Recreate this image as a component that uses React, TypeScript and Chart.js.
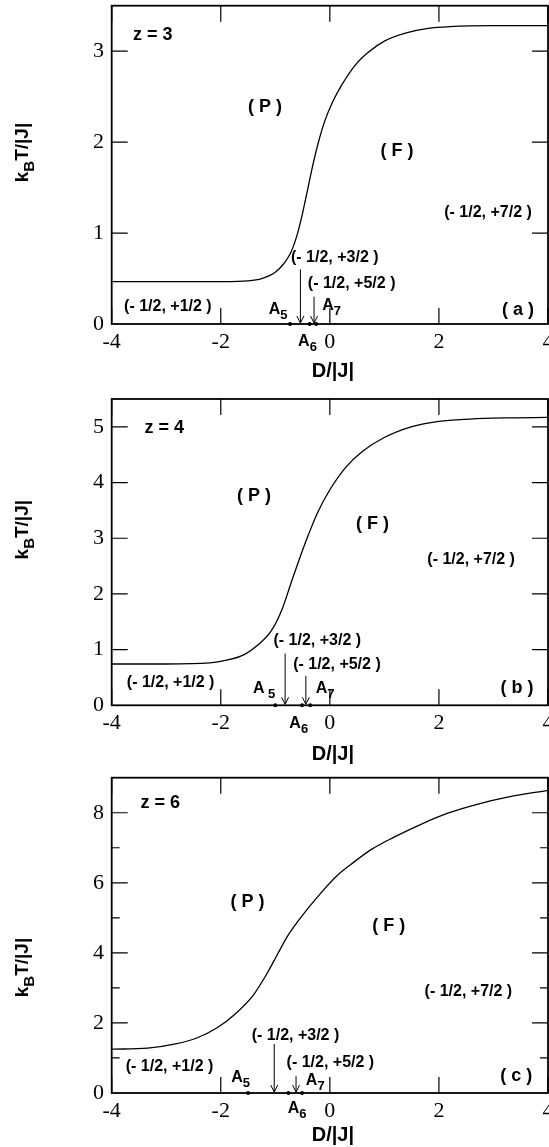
import React, { useEffect, useRef } from "react";
import { Chart, registerables } from "chart.js";
Chart.register(...registerables);

// ---------- data ----------
const xTickValues = [-4, -2, 0, 2, 4];

// (a) z = 3
const dA = [-4, -3, -2, -1.5, -1.25, -1.0, -0.85, -0.72, -0.6, -0.5, -0.4, -0.3, -0.2, -0.1, 0.05, 0.23, 0.47, 0.71, 1.0, 1.4, 1.8, 2.2, 3, 4];
const tA = [0.465, 0.465, 0.466, 0.475, 0.5, 0.57, 0.66, 0.78, 0.98, 1.22, 1.5, 1.78, 2.02, 2.22, 2.44, 2.64, 2.85, 2.99, 3.11, 3.2, 3.25, 3.27, 3.28, 3.28];
const dotsA = [-0.73, -0.37, -0.25];

// (b) z = 4
const dB = [-4, -3, -2.2, -1.89, -1.57, -1.31, -1.06, -0.87, -0.71, -0.55, -0.39, -0.23, 0.0, 0.28, 0.6, 0.98, 1.49, 2.0, 2.57, 3.21, 4];
const tB = [0.742, 0.742, 0.76, 0.81, 0.91, 1.09, 1.36, 1.74, 2.2, 2.65, 3.07, 3.45, 3.87, 4.26, 4.56, 4.8, 5.0, 5.1, 5.14, 5.16, 5.17];
const dotsB = [-1.0, -0.51, -0.36];

// (c) z = 6
const dC = [-4, -3.34, -2.83, -2.44, -2.06, -1.74, -1.41, -1.16, -0.96, -0.77, -0.58, -0.39, -0.13, 0.13, 0.39, 0.77, 1.16, 1.67, 2.19, 2.7, 3.28, 4];
const tC = [1.25, 1.28, 1.4, 1.57, 1.87, 2.25, 2.78, 3.39, 3.96, 4.49, 4.91, 5.29, 5.77, 6.2, 6.53, 6.96, 7.29, 7.67, 8.0, 8.24, 8.45, 8.64];
const dotsC = [-1.5, -0.76, -0.51];

// ---------- annotations ----------
type Part = [string, boolean?];
type Note = { parts: Part[]; x: number; y: number; size: number; align: "left" | "center" };
type Arrow = { x: number; top: number };

const SANS = "'Liberation Sans', Arial, Helvetica, sans-serif";
const SERIF = "'Liberation Serif', 'Times New Roman', serif";

const notesA: Note[] = [
  { parts: [["z = 3"]], x: -3.61, y: 3.18, size: 18, align: "left" },
  { parts: [["( P )"]], x: -1.19, y: 2.39, size: 18, align: "center" },
  { parts: [["( F )"]], x: 1.23, y: 1.9, size: 18, align: "center" },
  { parts: [["(- 1/2, +7/2 )"]], x: 2.9, y: 1.22, size: 16, align: "center" },
  { parts: [["(- 1/2, +3/2 )"]], x: 0.09, y: 0.73, size: 16, align: "center" },
  { parts: [["(- 1/2, +5/2 )"]], x: 0.4, y: 0.44, size: 16, align: "center" },
  { parts: [["(- 1/2, +1/2 )"]], x: -2.97, y: 0.19, size: 16, align: "center" },
  { parts: [["( a )"]], x: 3.45, y: 0.154, size: 18, align: "center" },
  { parts: [["A"], ["5", true]], x: -1.12, y: 0.16, size: 16, align: "left" },
  { parts: [["A"], ["7", true]], x: -0.14, y: 0.2, size: 16, align: "left" },
  { parts: [["A"], ["6", true]], x: -0.41, y: -0.19, size: 16, align: "center" },
];
const arrowsA: Arrow[] = [
  { x: -0.54, top: 0.6 },
  { x: -0.29, top: 0.3 },
];

const notesB: Note[] = [
  { parts: [["z = 4"]], x: -3.4, y: 4.97, size: 18, align: "left" },
  { parts: [["( P )"]], x: -1.39, y: 3.75, size: 18, align: "center" },
  { parts: [["( F )"]], x: 0.78, y: 3.26, size: 18, align: "center" },
  { parts: [["(- 1/2, +7/2 )"]], x: 2.59, y: 2.62, size: 16, align: "center" },
  { parts: [["(- 1/2, +3/2 )"]], x: -0.23, y: 1.17, size: 16, align: "center" },
  { parts: [["(- 1/2, +5/2 )"]], x: 0.13, y: 0.73, size: 16, align: "center" },
  { parts: [["(- 1/2, +1/2 )"]], x: -2.92, y: 0.4, size: 16, align: "center" },
  { parts: [["( b )"]], x: 3.43, y: 0.31, size: 18, align: "center" },
  { parts: [["A"], [" 5", true]], x: -1.41, y: 0.3, size: 16, align: "left" },
  { parts: [["A"], ["7", true]], x: -0.26, y: 0.3, size: 16, align: "left" },
  { parts: [["A"], ["6", true]], x: -0.57, y: -0.32, size: 16, align: "center" },
];
const arrowsB: Arrow[] = [
  { x: -0.82, top: 0.93 },
  { x: -0.44, top: 0.53 },
];

const notesC: Note[] = [
  { parts: [["z = 6"]], x: -3.47, y: 8.29, size: 18, align: "left" },
  { parts: [["( P )"]], x: -1.51, y: 5.44, size: 18, align: "center" },
  { parts: [["( F )"]], x: 1.08, y: 4.77, size: 18, align: "center" },
  { parts: [["(- 1/2, +7/2 )"]], x: 2.54, y: 2.9, size: 16, align: "center" },
  { parts: [["(- 1/2, +3/2 )"]], x: -0.63, y: 1.63, size: 16, align: "center" },
  { parts: [["(- 1/2, +5/2 )"]], x: 0.01, y: 0.86, size: 16, align: "center" },
  { parts: [["(- 1/2, +1/2 )"]], x: -2.94, y: 0.75, size: 16, align: "center" },
  { parts: [["( c )"]], x: 3.42, y: 0.49, size: 18, align: "center" },
  { parts: [["A"], ["5", true]], x: -1.81, y: 0.45, size: 16, align: "left" },
  { parts: [["A"], ["7", true]], x: -0.44, y: 0.36, size: 16, align: "left" },
  { parts: [["A"], ["6", true]], x: -0.6, y: -0.45, size: 16, align: "center" },
];
const arrowsC: Arrow[] = [
  { x: -1.02, top: 1.4 },
  { x: -0.62, top: 0.48 },
];

type Panel = {
  d: number[];
  t: number[];
  dots: number[];
  notes: Note[];
  arrows: Arrow[];
  yMax: number;
  yStep: number;
  yMajor: number[];
  yMinor: number[];
  canvasTop: number;
  canvasH: number;
  plotTop: number;
  plotBottom: number;
  yTitleCenter: number;
  xTitleY: number;
};

const panels: Panel[] = [
  {
    d: dA, t: tA, dots: dotsA, notes: notesA, arrows: arrowsA,
    yMax: 3.5, yStep: 1, yMajor: [1, 2, 3], yMinor: [],
    canvasTop: 0, canvasH: 385, plotTop: 5.7, plotBottom: 324, yTitleCenter: 152.5, xTitleY: 371.7,
  },
  {
    d: dB, t: tB, dots: dotsB, notes: notesB, arrows: arrowsB,
    yMax: 5.5, yStep: 1, yMajor: [1, 2, 3, 4, 5], yMinor: [],
    canvasTop: 385, canvasH: 385, plotTop: 399, plotBottom: 705.3, yTitleCenter: 529.7, xTitleY: 754,
  },
  {
    d: dC, t: tC, dots: dotsC, notes: notesC, arrows: arrowsC,
    yMax: 9, yStep: 2, yMajor: [2, 4, 6, 8], yMinor: [1, 3, 5, 7],
    canvasTop: 770, canvasH: 377, plotTop: 777.7, plotBottom: 1093, yTitleCenter: 967.5, xTitleY: 1135,
  },
];

function drawParts(ctx: CanvasRenderingContext2D, parts: Part[], x: number, y: number, size: number, align: string) {
  const subSize = Math.round(size * 0.8);
  let total = 0;
  const widths = parts.map(([s, sub]) => {
    ctx.font = `bold ${sub ? subSize : size}px ${SANS}`;
    const w = ctx.measureText(s).width;
    total += w;
    return w;
  });
  let cx = align === "left" ? x : x - total / 2;
  ctx.textAlign = "left";
  ctx.textBaseline = "middle";
  parts.forEach(([s, sub], i) => {
    ctx.font = `bold ${sub ? subSize : size}px ${SANS}`;
    ctx.fillText(s, cx, sub ? y + size * 0.38 : y);
    cx += widths[i];
  });
}

function PanelChart({ p }: { p: Panel }) {
  const ref = useRef<HTMLCanvasElement | null>(null);
  useEffect(() => {
    if (!ref.current) return;
    const xAxisH = p.canvasTop + p.canvasH - p.plotBottom;
    const overlay = {
      id: "overlay",
      afterDraw(chart: any) {
        const { ctx, chartArea: a, scales } = chart;
        const xs = scales.x;
        const ys = scales.y;
        ctx.save();
        ctx.strokeStyle = "#000";
        ctx.fillStyle = "#000";
        // inward ticks
        ctx.lineWidth = 1.2;
        ctx.beginPath();
        xTickValues.forEach((v) => {
          const px = xs.getPixelForValue(v);
          ctx.moveTo(px, a.bottom);
          ctx.lineTo(px, a.bottom - 16);
          ctx.moveTo(px, a.top);
          ctx.lineTo(px, a.top + 16);
        });
        p.yMajor.forEach((v) => {
          const py = ys.getPixelForValue(v);
          ctx.moveTo(a.left, py);
          ctx.lineTo(a.left + 16, py);
          ctx.moveTo(a.right, py);
          ctx.lineTo(a.right - 16, py);
        });
        p.yMinor.forEach((v) => {
          const py = ys.getPixelForValue(v);
          ctx.moveTo(a.left, py);
          ctx.lineTo(a.left + 8, py);
          ctx.moveTo(a.right, py);
          ctx.lineTo(a.right - 8, py);
        });
        ctx.stroke();
        // frame
        ctx.lineWidth = 1.8;
        ctx.strokeRect(a.left, a.top, a.right - a.left, a.bottom - a.top);
        // arrows
        ctx.lineWidth = 1;
        p.arrows.forEach((ar) => {
          const px = xs.getPixelForValue(ar.x);
          const pt = ys.getPixelForValue(ar.top);
          const pb = ys.getPixelForValue(0) - 1;
          ctx.beginPath();
          ctx.moveTo(px, pt);
          ctx.lineTo(px, pb);
          ctx.moveTo(px - 3.5, pb - 7);
          ctx.lineTo(px, pb);
          ctx.lineTo(px + 3.5, pb - 7);
          ctx.stroke();
        });
        // notes
        p.notes.forEach((n) => {
          drawParts(ctx, n.parts, xs.getPixelForValue(n.x), ys.getPixelForValue(n.y), n.size, n.align);
        });
        // x title
        ctx.font = `bold 20px ${SANS}`;
        ctx.textAlign = "center";
        ctx.textBaseline = "middle";
        ctx.fillText("D/|J|", (a.left + a.right) / 2 + 3, p.xTitleY - p.canvasTop);
        // y title (rotated)
        ctx.save();
        ctx.translate(23, p.yTitleCenter - p.canvasTop);
        ctx.rotate(-Math.PI / 2);
        drawParts(ctx, [["k"], ["B", true], ["T/|J|"]], 0, 0, 19, "center");
        ctx.restore();
        ctx.restore();
      },
    };
    const chart = new Chart(ref.current, {
      type: "line",
      data: {
        datasets: [
          {
            data: p.d.map((v, i) => ({ x: v, y: p.t[i] })),
            borderColor: "#000",
            borderWidth: 1.3,
            pointRadius: 0,
            cubicInterpolationMode: "monotone",
            fill: false,
          },
          {
            data: p.dots.map((v) => ({ x: v, y: 0 })),
            showLine: false,
            pointRadius: 2,
            pointBackgroundColor: "#000",
            pointBorderColor: "#000",
            pointBorderWidth: 0,
            clip: false,
          } as any,
        ],
      },
      options: {
        animation: false,
        responsive: false,
        devicePixelRatio: 1,
        layout: { padding: { left: 0, right: 1, top: p.plotTop - p.canvasTop, bottom: 0 }, autoPadding: false },
        plugins: { legend: { display: false }, tooltip: { enabled: false } },
        scales: {
          x: {
            type: "linear",
            min: -4,
            max: 4,
            grid: { display: false, drawTicks: false, tickLength: 0 },
            border: { display: false },
            ticks: {
              stepSize: 2,
              includeBounds: false,
              autoSkip: false,
              maxRotation: 0,
              padding: 5,
              color: "#000",
              font: { family: SERIF, size: 22 },
            },
            afterFit: (s: any) => {
              s.height = xAxisH;
              s.paddingLeft = 0;
              s.paddingRight = 0;
            },
          },
          y: {
            type: "linear",
            min: 0,
            max: p.yMax,
            grid: { display: false, drawTicks: false, tickLength: 0 },
            border: { display: false },
            ticks: {
              stepSize: p.yStep,
              includeBounds: false,
              autoSkip: false,
              padding: 7.7,
              color: "#000",
              font: { family: SERIF, size: 22 },
            },
            afterFit: (s: any) => {
              s.width = 111.7;
              s.paddingTop = 0;
              s.paddingBottom = 0;
            },
          },
        },
      } as any,
      plugins: [overlay],
    });
    return () => chart.destroy();
  }, [p]);
  return (
    <canvas
      ref={ref}
      width={549}
      height={p.canvasH}
      style={{ position: "absolute", left: 0, top: p.canvasTop, width: 549, height: p.canvasH }}
    />
  );
}

export default function App() {
  return (
    <div
      style={{
        position: "absolute",
        left: 0,
        top: 0,
        width: 549,
        height: 1147,
        overflow: "hidden",
        background: "#fff",
      }}
    >
      {panels.map((p, i) => (
        <PanelChart key={i} p={p} />
      ))}
    </div>
  );
}
